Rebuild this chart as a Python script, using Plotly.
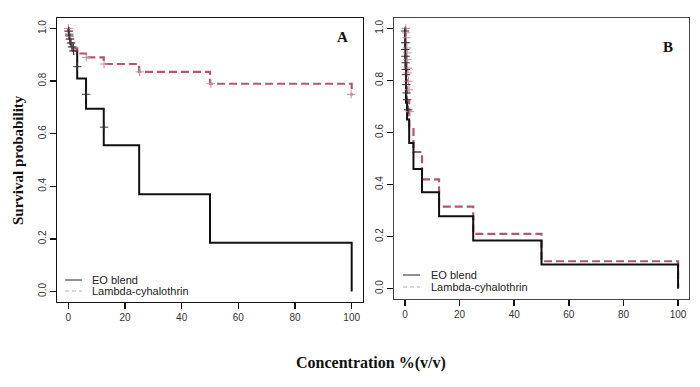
import plotly.graph_objects as go

W, H = 700, 387

# ---------------- data ----------------
conc = [0, 0.1, 0.2, 0.39, 0.78, 1.56, 3.125, 6.25, 12.5, 25, 50, 100]

# Panel A
eo_a = [1.0, 0.99, 0.975, 0.96, 0.94, 0.915, 0.81, 0.695, 0.556, 0.37, 0.185, 0.0]
lc_a = [1.0, 0.99, 0.98, 0.965, 0.945, 0.925, 0.905, 0.89, 0.865, 0.835, 0.79, 0.745]
eo_a_cens_x = [0.1, 0.3, 0.5, 0.9, 1.3, 1.8, 3.2, 6.3, 12.6]
eo_a_cens_y = [0.99, 0.975, 0.96, 0.945, 0.93, 0.915, 0.855, 0.75, 0.625]
lc_a_cens_x = [0.05, 0.15, 0.3, 0.5, 0.8, 1.1, 1.5, 2.0, 6.3, 12.6, 25.2, 50.3, 99.8]
lc_a_cens_y = [1.0, 0.99, 0.98, 0.97, 0.96, 0.945, 0.93, 0.915, 0.89, 0.865, 0.835, 0.79, 0.75]

# Panel B
eo_b = [1.0, 0.93, 0.85, 0.714, 0.65, 0.56, 0.46, 0.37, 0.278, 0.185, 0.093, 0.0]
lc_b = [1.0, 0.95, 0.88, 0.80, 0.72, 0.62, 0.525, 0.42, 0.315, 0.21, 0.105, 0.0]
eo_b_cens_x = [0.05, 0.1, 0.15, 0.2, 0.25, 0.3, 0.35, 0.45, 0.6, 0.8, 1.2]
eo_b_cens_y = [0.99, 0.945, 0.919, 0.893, 0.868, 0.842, 0.822, 0.784, 0.752, 0.726, 0.687]
lc_b_cens_x = [0.3, 0.4, 0.5, 0.6, 0.7, 0.8, 0.9, 1.0, 1.1, 1.3, 1.5, 1.8]
lc_b_cens_y = [1.0, 0.983, 0.964, 0.945, 0.925, 0.906, 0.88, 0.848, 0.829, 0.797, 0.764, 0.68]

series_names = ["EO blend", "Lambda-cyhalothrin"]
x_ticks = [0, 20, 40, 60, 80, 100]
y_ticks = [0.0, 0.2, 0.4, 0.6, 0.8, 1.0]
y_tick_text = ["0.0", "0.2", "0.4", "0.6", "0.8", "1.0"]

# ---------------- styles ----------------
BLACK = "#111111"
PINK = "#b3566f"
PINK_LIGHT = "#c98a9c"

def px(x):
    return x / W

def py(y):
    return 1 - y / H

fig = go.Figure()

def add_panel(xa, ya, eo, lc, ecx, ecy, lcx, lcy):
    fig.add_trace(go.Scatter(x=conc, y=lc, mode="lines", line=dict(color=PINK, width=2.2, dash="8px,4px"),
                             line_shape="hv", xaxis=xa, yaxis=ya, showlegend=False, hoverinfo="skip"))
    fig.add_trace(go.Scatter(x=conc, y=eo, mode="lines", line=dict(color=BLACK, width=2),
                             line_shape="hv", xaxis=xa, yaxis=ya, showlegend=False, hoverinfo="skip"))
    fig.add_trace(go.Scatter(x=lcx, y=lcy, mode="markers",
                             marker=dict(symbol="cross-thin", size=6, line=dict(color=PINK_LIGHT, width=1)),
                             xaxis=xa, yaxis=ya, showlegend=False, hoverinfo="skip"))
    fig.add_trace(go.Scatter(x=ecx, y=ecy, mode="markers",
                             marker=dict(symbol="cross-thin", size=6, line=dict(color="#333333", width=1)),
                             xaxis=xa, yaxis=ya, showlegend=False, hoverinfo="skip"))

add_panel("x", "y", eo_a, lc_a, eo_a_cens_x, eo_a_cens_y, lc_a_cens_x, lc_a_cens_y)
add_panel("x2", "y2", eo_b, lc_b, eo_b_cens_x, eo_b_cens_y, lc_b_cens_x, lc_b_cens_y)

tickfont = dict(family="Liberation Sans, Arial", size=10, color="#333333")
xcommon = dict(range=[-4, 104], tickvals=x_ticks, ticks="outside", ticklen=6, tickwidth=1.5,
               tickcolor="#111", showline=True, mirror=True, linewidth=1, showgrid=False,
               zeroline=False, tickfont=tickfont, automargin=False)
ycommon = dict(range=[-0.04, 1.04], tickvals=y_ticks, ticktext=y_tick_text, ticks="outside",
               ticklen=6, tickwidth=1.5, tickcolor="#111", showline=True, mirror=True, linewidth=1,
               showgrid=False, zeroline=False, tickangle=-90, tickfont=tickfont, automargin=False)

fig.update_layout(
    width=W, height=H,
    margin=dict(l=0, r=0, t=0, b=0),
    paper_bgcolor="white", plot_bgcolor="white",
    hovermode=False,
    xaxis=dict(domain=[px(57), px(363)], anchor="y", linecolor="#111", **xcommon),
    yaxis=dict(domain=[py(302), py(18)], anchor="x", linecolor="#111", **ycommon),
    xaxis2=dict(domain=[px(394), px(689)], anchor="y2", linecolor="#444", **xcommon),
    yaxis2=dict(domain=[py(299), py(18)], anchor="x2", linecolor="#444", **ycommon),
)

serif = "Liberation Serif, Times New Roman, serif"
sans = "Liberation Sans, Arial, sans-serif"
annotations = [
    dict(text="<b>A</b>", x=px(342), y=py(37), font=dict(family=serif, size=15, color="#111")),
    dict(text="<b>B</b>", x=px(668), y=py(47), font=dict(family=serif, size=15, color="#111")),
    dict(text="<b>Survival probability</b>", x=px(18), y=py(160), textangle=-90,
         font=dict(family=serif, size=15, color="#111")),
    dict(text="<b>Concentration %(v/v)</b>", x=px(371), y=py(363),
         font=dict(family=serif, size=16, color="#111")),
]
shapes = []
# legends
for (x0, x1, tx, y1, y2) in [(65, 82, 90, 280, 291), (403, 420, 429, 275, 287)]:
    shapes.append(dict(type="line", xref="paper", yref="paper", x0=px(x0), x1=px(x1), y0=py(y1), y1=py(y1),
                       line=dict(color="#222", width=1)))
    shapes.append(dict(type="line", xref="paper", yref="paper", x0=px(x0), x1=px(x1), y0=py(y2), y1=py(y2),
                       line=dict(color="#c0a8ae", width=1, dash="4px,3px")))
    annotations.append(dict(text=series_names[0], x=px(tx), y=py(y1), xanchor="left",
                            font=dict(family=sans, size=11, color="#222")))
    annotations.append(dict(text=series_names[1], x=px(tx), y=py(y2), xanchor="left",
                            font=dict(family=sans, size=11, color="#222")))

for a in annotations:
    a.setdefault("xref", "paper")
    a.setdefault("yref", "paper")
    a.setdefault("showarrow", False)
    a.setdefault("xanchor", "center")
    a.setdefault("yanchor", "middle")

fig.update_layout(annotations=annotations, shapes=shapes)
fig.write_html("out.html", config={"displayModeBar": False, "staticPlot": True},
               post_script="document.body.style.margin='0';")
